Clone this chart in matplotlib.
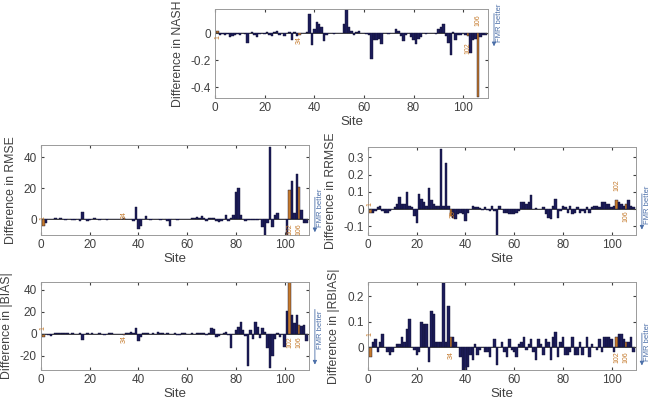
import numpy as np
import matplotlib
matplotlib.use("Agg")
import matplotlib.pyplot as plt

plt.rcParams["font.family"] = ["Liberation Sans", "DejaVu Sans"]
plt.rcParams["axes.unicode_minus"] = False

# ------------------------------------------------------------
# Data: difference per site (sites 1..109)
# ------------------------------------------------------------
sites = list(range(1, 110))
highlight_sites = [1, 34, 102, 106]

nash_diff = [
    0.02, -0.01, -0.005, -0.01, -0.005, -0.03, -0.02, -0.01, -0.005, -0.01,
    0.005, -0.005, -0.075, 0.005, 0.01, -0.01, -0.03, -0.005, 0.005, -0.005,
    0.01, -0.01, -0.02, 0.01, 0.02, -0.01, 0.005, -0.02, 0.005, 0.01,
    -0.05, 0.01, -0.02, -0.01, 0.0, 0.005, 0.01, 0.14, -0.09, 0.03,
    0.08, 0.07, 0.05, -0.06, -0.01, 0.0, 0.005, -0.005, 0.0, 0.005,
    0.005, 0.07, 0.18, 0.05, 0.02, -0.01, 0.01, 0.02, 0.005, 0.0,
    -0.005, -0.01, -0.19, -0.05, -0.05, -0.04, -0.08, 0.005, 0.0, -0.005,
    0.0, 0.005, 0.03, 0.02, -0.02, -0.06, -0.01, 0.0, -0.03, -0.05,
    -0.08, -0.04, -0.03, 0.0, -0.005, 0.0, 0.005, 0.0, -0.005, 0.03,
    0.05, 0.07, -0.02, -0.07, -0.16, 0.01, -0.05, -0.01, -0.01, 0.005,
    -0.01, -0.02, -0.15, -0.05, -0.04, -0.47, -0.03, -0.01, -0.01,
]

rmse_diff = [
    -4, -2, 0, 0.3, 0, 1, 0.5, 1, 0.3, -0.3,
    0.3, 0, -0.5, -0.3, 0.3, -1, 5, 0.5, -1, -0.5,
    0.5, 1, 0.3, -0.3, 0.2, 0.3, -0.2, 0, 0.5, 0,
    0, 0, 0, 1, 0, 0, 0.2, -1, 8, -6,
    -4, 0.5, 2, 0.3, -0.3, 0, 0.2, 0, -0.2, 0,
    0, -1, -4, 0.2, 0, -0.3, 0.2, 0, 0, 0.2,
    0.5, 1, 1, 1.5, 1, 2, 1, -1, 1, 1,
    1, -1, -1.5, -1, 0.5, 3, -1, 1, 3, 18,
    20, 3, 0.5, -1, -0.5, -0.5, -0.5, -0.5, -0.5, 0.5,
    -5, -10, -2, 47, -5, 3, 4, 0, 0, 0,
    -12, 19, 25, 4, 29, 21, 6, -2, -2,
]

rrmse_diff = [
    -0.02, -0.02, -0.01, 0.01, 0.02, -0.01, -0.02, -0.02, -0.01, 0.0,
    0.01, 0.03, 0.07, 0.03, 0.03, 0.1, 0.02, 0.01, -0.04, -0.08,
    0.09, 0.06, 0.04, 0.02, 0.12, 0.05, 0.03, 0.02, 0.02, 0.35,
    0.02, 0.27, 0.02, -0.04, -0.05, -0.06, -0.03, -0.02, -0.03, -0.07,
    -0.02, 0.0, 0.02, 0.01, 0.01, 0.005, -0.005, 0.01, -0.005, -0.01,
    0.02, -0.01, -0.15, 0.02, 0.0, -0.02, -0.02, -0.03, -0.03, -0.03,
    -0.02, -0.01, 0.04, 0.04, 0.03, 0.04, 0.08, 0.0, 0.005, 0.0,
    0.0, 0.01, -0.03, -0.05, -0.06, 0.02, 0.06, -0.05, -0.01, 0.02,
    0.01, -0.02, 0.02, -0.03, -0.02, 0.01, -0.02, -0.01, -0.02, 0.01,
    -0.02, 0.01, 0.02, 0.02, 0.01, 0.04, 0.04, 0.03, 0.03, 0.01,
    0.02, 0.05, 0.04, 0.03, 0.02, 0.03, 0.05, 0.02, 0.01,
]

bias_diff = [
    -3, 0, -1, -2, 0, 0.5, 1, 1, 1, 0.3,
    0.3, -0.3, 0.3, 0, -0.3, 0.3, -6, 0, 0.3, -0.3,
    0.3, 0, -0.3, 0.3, 0, -1, 0, 0.5, 1, 0,
    0, 0, 0, -1, 1, 1, 2, 1, 5, -7,
    -3, 0.5, 1, 0.3, -0.3, 0.3, 0, 2, 1, 0.3,
    0, 0.3, -0.3, 0, 0.3, -1, -1, 1, 0.3, 0,
    -0.3, 0.3, 0, 1, 0.5, 1, 0.5, -1, 1, 5,
    4, -3, -2, 0, 0.5, 2, -1, -13, 0, 3,
    6, 11, 3, -2, -29, 3, -5, 11, 6, -4,
    5, 2, -13, -31, -20, -5, 1, -3, 0, -12,
    21, 47, 17, 10, 17, 8, 7, 8, -7,
]

rbias_diff = [
    -0.04, 0.02, 0.03, -0.02, 0.02, 0.05, 0.0, -0.02, -0.03, -0.02,
    0.0, 0.01, 0.01, 0.04, 0.02, 0.07, 0.11, 0.0, -0.01, -0.03,
    -0.02, 0.1, 0.09, 0.09, -0.06, 0.14, 0.13, 0.02, 0.02, 0.02,
    0.25, 0.02, 0.16, 0.04, 0.04, 0.02, 0.0, -0.04, -0.09, -0.09,
    -0.08, -0.03, -0.05, 0.01, -0.03, -0.01, 0.0, -0.02, -0.02, -0.04,
    0.0, 0.03, -0.07, 0.0, 0.02, -0.02, -0.04, 0.03, -0.01, -0.02,
    -0.04, 0.01, 0.02, 0.04, -0.01, 0.01, 0.03, -0.02, -0.05, 0.03,
    0.01, -0.03, 0.03, 0.02, -0.05, 0.04, 0.06, -0.04, 0.02, 0.04,
    -0.03, -0.03, -0.02, 0.04, -0.03, -0.03, 0.02, -0.03, 0.0, 0.04,
    -0.04, 0.01, 0.0, -0.01, 0.03, -0.02, 0.04, 0.04, 0.04, 0.03,
    -0.02, 0.04, 0.05, 0.05, 0.03, 0.02, 0.02, 0.04, -0.02,
]

NAVY = "#1c1c5a"
ORANGE = "#c57a2c"
BLUE = "#4a6ea8"
GREY = "#404040"
W, H = 652, 408


# ------------------------------------------------------------
# Panel helper
# ------------------------------------------------------------
def panel(box, values, ylabel, ylim, yticks, ytick_labels, site_labels, arrow_span):
    left, right, top, bottom = box
    ax = fig.add_axes([left / W, 1 - bottom / H, (right - left) / W, (bottom - top) / H])
    colors = [ORANGE if s in highlight_sites else NAVY for s in sites]
    ax.bar(sites, values, width=1.0, color=colors, edgecolor="#101030", linewidth=0.3)
    ax.axhline(0, color="black", linewidth=0.5, zorder=0)
    ax.set_xlim(0, 110)
    ax.set_ylim(*ylim)
    ax.set_xticks([0, 20, 40, 60, 80, 100])
    ax.set_yticks(yticks)
    ax.set_yticklabels(ytick_labels)
    ax.tick_params(direction="in", length=2.5, labelsize=8.5, colors=GREY,
                   top=True, right=True, pad=3)
    for sp in ax.spines.values():
        sp.set_color("#9a9a9a")
        sp.set_linewidth(0.7)
    ax.set_xlabel("Site", fontsize=9.5, color=GREY, labelpad=1)
    ax.set_ylabel("Difference in " + ylabel, fontsize=8.8, color=GREY, labelpad=5)

    # rotated orange site numbers
    for s, y in site_labels:
        ax.text(s, y, str(s), rotation=90, fontsize=5, color=ORANGE,
                ha="center", va="center")

    # "FMR better" arrow on the right
    y0, y1 = arrow_span
    ax.annotate("", xy=(1.022, y0), xytext=(1.022, y1), xycoords="axes fraction",
                arrowprops=dict(arrowstyle="-|>", color=BLUE, lw=0.6,
                                mutation_scale=6))
    ax.text(1.042, (y0 + y1) / 2 + 0.08, "FMR better", rotation=90, fontsize=5.5,
            color=BLUE, ha="center", va="center", transform=ax.transAxes)
    return ax


fig = plt.figure(figsize=(W / 100, H / 100), dpi=100)

panel((215, 488, 9, 98), nash_diff, "NASH", (-0.48, 0.18), [-0.4, -0.2, 0],
      ["-0.4", "-0.2", "0"],
      [(1, -0.03), (34, -0.05), (102, -0.11), (106, 0.1)], (0.55, 0.98))

panel((41, 309, 145, 235), rmse_diff, "RMSE", (-10, 48), [0, 20, 40],
      ["0", "20", "40"],
      [(1, 1), (34, 3), (102, -6), (106, -6)], (0.0, 0.45))

panel((368, 636, 147, 235), rrmse_diff, "RRMSE", (-0.15, 0.36),
      [-0.1, 0, 0.1, 0.2, 0.3], ["-0.1", "0", "0.1", "0.2", "0.3"],
      [(1, 0.03), (35, -0.03), (102, 0.14), (106, -0.04)], (0.03, 0.5))

panel((41, 309, 282, 370), bias_diff, "|BIAS|", (-33, 47), [-20, 0, 20, 40],
      ["-20", "0", "20", "40"],
      [(1, 5), (34, -5), (102, -8), (106, -8)], (0.03, 0.72))

panel((368, 636, 282, 370), rbias_diff, "|RBIAS|", (-0.09, 0.255),
      [0, 0.1, 0.2], ["0", "0.1", "0.2"],
      [(1, 0.05), (34, -0.03), (102, -0.04), (106, -0.04)], (0.02, 0.45))

fig.savefig("out.png", dpi=100)
